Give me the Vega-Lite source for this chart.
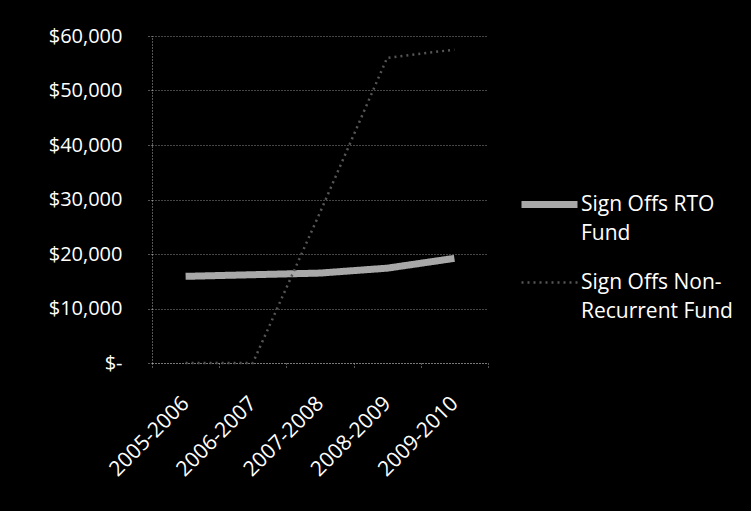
{
  "$schema": "https://vega.github.io/schema/vega-lite/v6.json",
  "width": 336,
  "height": 327,
  "autosize": {"type": "none"},
  "padding": {"left": 152, "top": 36, "right": 263, "bottom": 148},
  "background": "#000000",
  "config": {
    "view": {"stroke": null},
    "font": "Open Sans",
    "style": {"guide-label": {"lineHeight": 29}}
  },
  "data": {
    "values": [
      {"year": "2005-2006", "series": "Sign Offs RTO Fund", "amount": 15900},
      {"year": "2006-2007", "series": "Sign Offs RTO Fund", "amount": 16200},
      {"year": "2007-2008", "series": "Sign Offs RTO Fund", "amount": 16500},
      {"year": "2008-2009", "series": "Sign Offs RTO Fund", "amount": 17400},
      {"year": "2009-2010", "series": "Sign Offs RTO Fund", "amount": 19200},
      {"year": "2005-2006", "series": "Sign Offs Non-Recurrent Fund", "amount": 0},
      {"year": "2006-2007", "series": "Sign Offs Non-Recurrent Fund", "amount": 0},
      {"year": "2007-2008", "series": "Sign Offs Non-Recurrent Fund", "amount": 27600},
      {"year": "2008-2009", "series": "Sign Offs Non-Recurrent Fund", "amount": 56000},
      {"year": "2009-2010", "series": "Sign Offs Non-Recurrent Fund", "amount": 57500}
    ]
  },
  "mark": {"type": "line", "strokeCap": "butt"},
  "encoding": {
    "x": {
      "field": "year",
      "type": "ordinal",
      "scale": {"type": "band", "paddingInner": 0, "paddingOuter": 0},
      "axis": {
        "title": null,
        "labelAngle": -45,
        "labelAlign": "right",
        "labelBaseline": "middle",
        "labelColor": "#ffffff",
        "labelFontSize": 21,
        "labelPadding": 32,
        "tickBand": "extent",
        "tickSize": 5,
        "tickColor": "#aaaaaa",
        "tickDash": [1, 2],
        "domainColor": "#aaaaaa",
        "domainDash": [1, 2],
        "grid": false
      }
    },
    "y": {
      "field": "amount",
      "type": "quantitative",
      "scale": {"domain": [0, 60000]},
      "axis": {
        "title": null,
        "values": [0, 10000, 20000, 30000, 40000, 50000, 60000],
        "labelExpr": "datum.value == 0 ? '$-\u00a0\u00a0' : '$' + format(datum.value, ',')",
        "labelColor": "#ffffff",
        "labelFontSize": 20,
        "labelPadding": 25,
        "tickSize": 5,
        "tickColor": "#aaaaaa",
        "tickDash": [1, 2],
        "domainColor": "#aaaaaa",
        "domainDash": [1, 2],
        "grid": true,
        "gridColor": "#8c8c8c",
        "gridDash": [1, 2]
      }
    },
    "color": {
      "field": "series",
      "type": "nominal",
      "scale": {
        "domain": ["Sign Offs RTO Fund", "Sign Offs Non-Recurrent Fund"],
        "range": ["#a8a8a8", "#555555"]
      },
      "legend": {
        "title": null,
        "orient": "none",
        "legendX": 366,
        "legendY": 137,
        "symbolType": "stroke",
        "symbolSize": 3136,
        "labelColor": "#ffffff",
        "labelFontSize": 21,
        "labelOffset": 0,
        "rowPadding": 9,
        "labelExpr": "datum.label == 'Sign Offs RTO Fund' ? ['Sign Offs RTO', 'Fund'] : ['Sign Offs Non-', 'Recurrent Fund']"
      }
    },
    "strokeWidth": {
      "field": "series",
      "type": "nominal",
      "scale": {
        "domain": ["Sign Offs RTO Fund", "Sign Offs Non-Recurrent Fund"],
        "range": [7, 2.5]
      },
      "legend": null
    },
    "strokeDash": {
      "field": "series",
      "type": "nominal",
      "scale": {
        "domain": ["Sign Offs RTO Fund", "Sign Offs Non-Recurrent Fund"],
        "range": [[1, 0], [2, 4]]
      },
      "legend": null
    }
  }
}
